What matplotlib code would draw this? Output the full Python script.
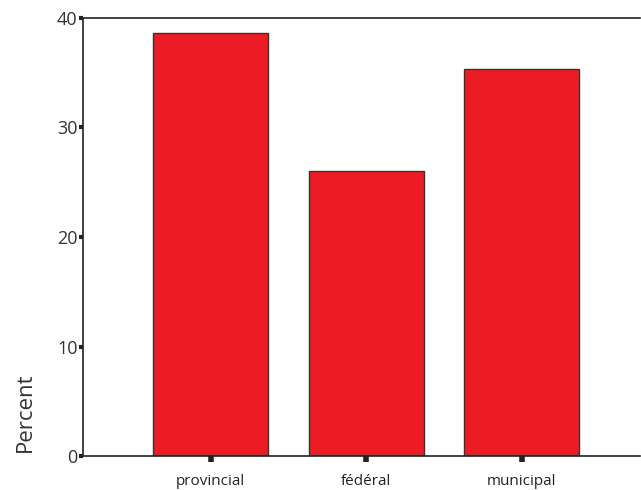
import numpy as np
import matplotlib.pyplot as plt

categories = ["provincial", "fédéral", "municipal"]
percent = [38.6, 26.05, 35.35]
y_ticks = [0, 10, 20, 30, 40]

plt.rcParams['font.family'] = ['Open Sans', 'DejaVu Sans']

fig = plt.figure(figsize=(6.41, 4.90), dpi=100)
ax = fig.add_axes([83 / 641, 34 / 490, 557 / 641, 438 / 490])

x = np.arange(len(categories))
ax.bar(x, percent, width=0.74, color="#ED1C24", edgecolor="#333333", linewidth=1.0)

ax.set_xlim(-0.82, 2.76)
ax.set_ylim(0, 40)
ax.set_yticks(y_ticks)
ax.set_yticklabels([str(v) for v in y_ticks], fontsize=13, color="#333333")
ax.set_xticks(x)
ax.set_xticklabels(categories, fontsize=11, color="#222222")

ax.spines['right'].set_visible(False)
for s in ['left', 'bottom', 'top']:
    ax.spines[s].set_color("#222222")
    ax.spines[s].set_linewidth(1.2)

ax.tick_params(axis='y', length=3, width=3, color="#222222", pad=1, direction='out')
ax.tick_params(axis='x', length=4, width=4, color="#222222", pad=9, direction='out')

fig.text(25 / 641, (490 - 412) / 490, "Percent", rotation=90, fontsize=16,
         color="#333333", ha='center', va='center')

fig.savefig("out.png", dpi=100)
